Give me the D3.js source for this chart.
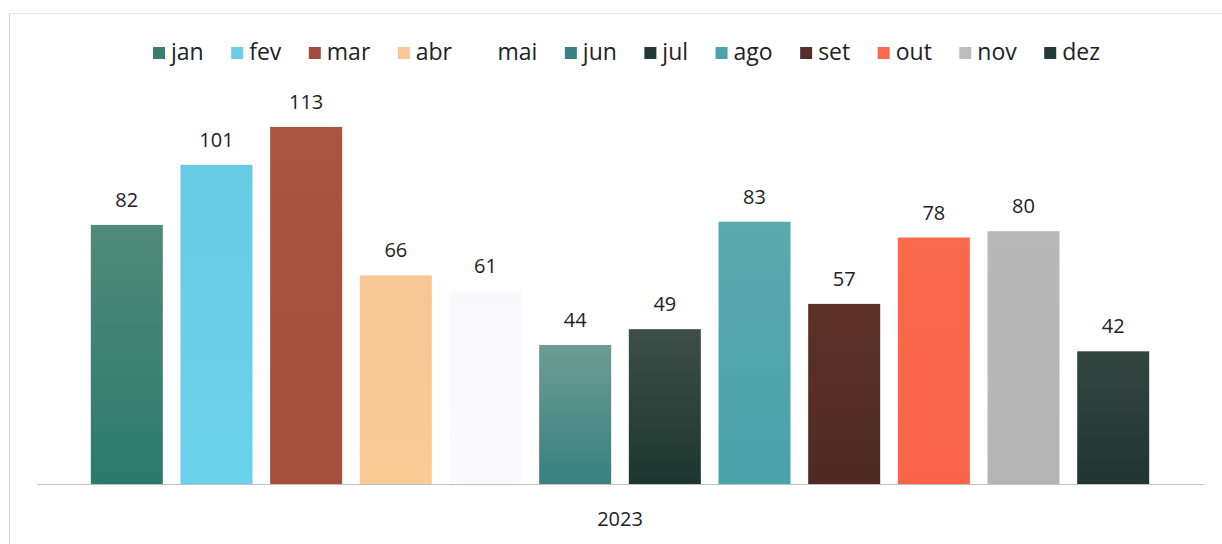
<!DOCTYPE html>
<html><head><meta charset="utf-8">
<script src="https://cdn.jsdelivr.net/npm/d3@7"></script>
<style>
html,body{margin:0;padding:0;background:#fff;}
svg{display:block;font-family:"Open Sans","Noto Sans",sans-serif;}
</style></head>
<body><svg id="chart" width="1222" height="544"></svg>
<script>
const months = ["jan","fev","mar","abr","mai","jun","jul","ago","set","out","nov","dez"];
const values = [82,101,113,66,61,44,49,83,57,78,80,42];
const category = "2023";
const topColors = ["#508a79","#66cbe3","#a9553f","#f7c793","#f9f9fb","#6e9c92","#3d4f48","#5aa9ad","#5c3228","#fa6a4c","#b9b9b9","#33453f"];
const bottomColors = ["#2c7a6c","#6ad2ea","#a44e3c","#fbcb96","#fafafc","#37817f","#1c372f","#4aa2ab","#4f2922","#f8634a","#b4b4b4","#213632"];
const legendColors = ["#3a7e72","#6dcde6","#a14c3e","#f9c796","#ffffff","#3d7f80","#1f3b33","#4aa3ad","#55302a","#f96a4f","#bdbdbd","#213c35"];

const svg = d3.select("#chart");
const W = 1222, H = 544;
const axisX0 = 37, axisX1 = 1203, baseY = 484;

// border
svg.append("line").attr("x1",9.5).attr("x2",9.5).attr("y1",13).attr("y2",H).attr("stroke","#d6d6d6");
svg.append("line").attr("x1",9).attr("x2",W).attr("y1",13.5).attr("y2",13.5).attr("stroke","#e2e2e2");

const x = d3.scaleBand().domain(months).range([axisX0, axisX1]).paddingInner(0.197).paddingOuter(0.6);
const y = d3.scaleLinear().domain([0, 120]).range([baseY, baseY - 120*3.16]);

const defs = svg.append("defs");
months.forEach((m,i)=>{
  const g = defs.append("linearGradient").attr("id","g"+i).attr("x1",0).attr("x2",0).attr("y1",0).attr("y2",1);
  g.append("stop").attr("offset","0%").attr("stop-color",topColors[i]);
  g.append("stop").attr("offset","100%").attr("stop-color",bottomColors[i]);
});

svg.append("g").selectAll("rect").data(values).join("rect")
  .attr("x",(d,i)=>x(months[i]))
  .attr("width",x.bandwidth())
  .attr("y",d=>y(d))
  .attr("height",d=>y(0)-y(d))
  .attr("fill",(d,i)=>`url(#g${i})`);

// axis line
const xAxis = d3.axisBottom(d3.scaleBand().domain([category]).range([axisX0, axisX1])).tickSize(0).tickPadding(28);
const ax = svg.append("g").attr("transform",`translate(0,${baseY})`).call(xAxis);
ax.select(".domain").attr("stroke","#bfbfbf").attr("stroke-width",1.2);
ax.selectAll("text").attr("font-size",20).attr("fill","#222").attr("font-family","'Open Sans',sans-serif");

// labels
svg.append("g").selectAll("text").data(values).join("text")
  .attr("x",(d,i)=>x(months[i])+x.bandwidth()/2)
  .attr("y",d=>y(d)-18)
  .attr("text-anchor","middle")
  .attr("font-size",20)
  .attr("fill","#222")
  .text(d=>d);

// legend
const legendLeft = 153, legendRight = 1100;
const lg = svg.append("g").attr("transform","translate(0,60)");
const items = lg.selectAll("g").data(months).join("g");
items.append("rect").attr("width",12).attr("height",12).attr("y",-13).attr("fill",(d,i)=>legendColors[i]);
items.append("text").attr("x",18).attr("y",0).attr("font-size",23).attr("fill","#222").text(d=>d);
const widths = [];
items.each(function(){ widths.push(18 + d3.select(this).select("text").node().getComputedTextLength()); });
const gap = ((legendRight - legendLeft) - d3.sum(widths)) / (months.length - 1);
let cx = legendLeft;
items.each(function(d,i){
  d3.select(this).attr("transform",`translate(${cx},0)`);
  cx += widths[i] + gap;
});
</script>
</body></html>
